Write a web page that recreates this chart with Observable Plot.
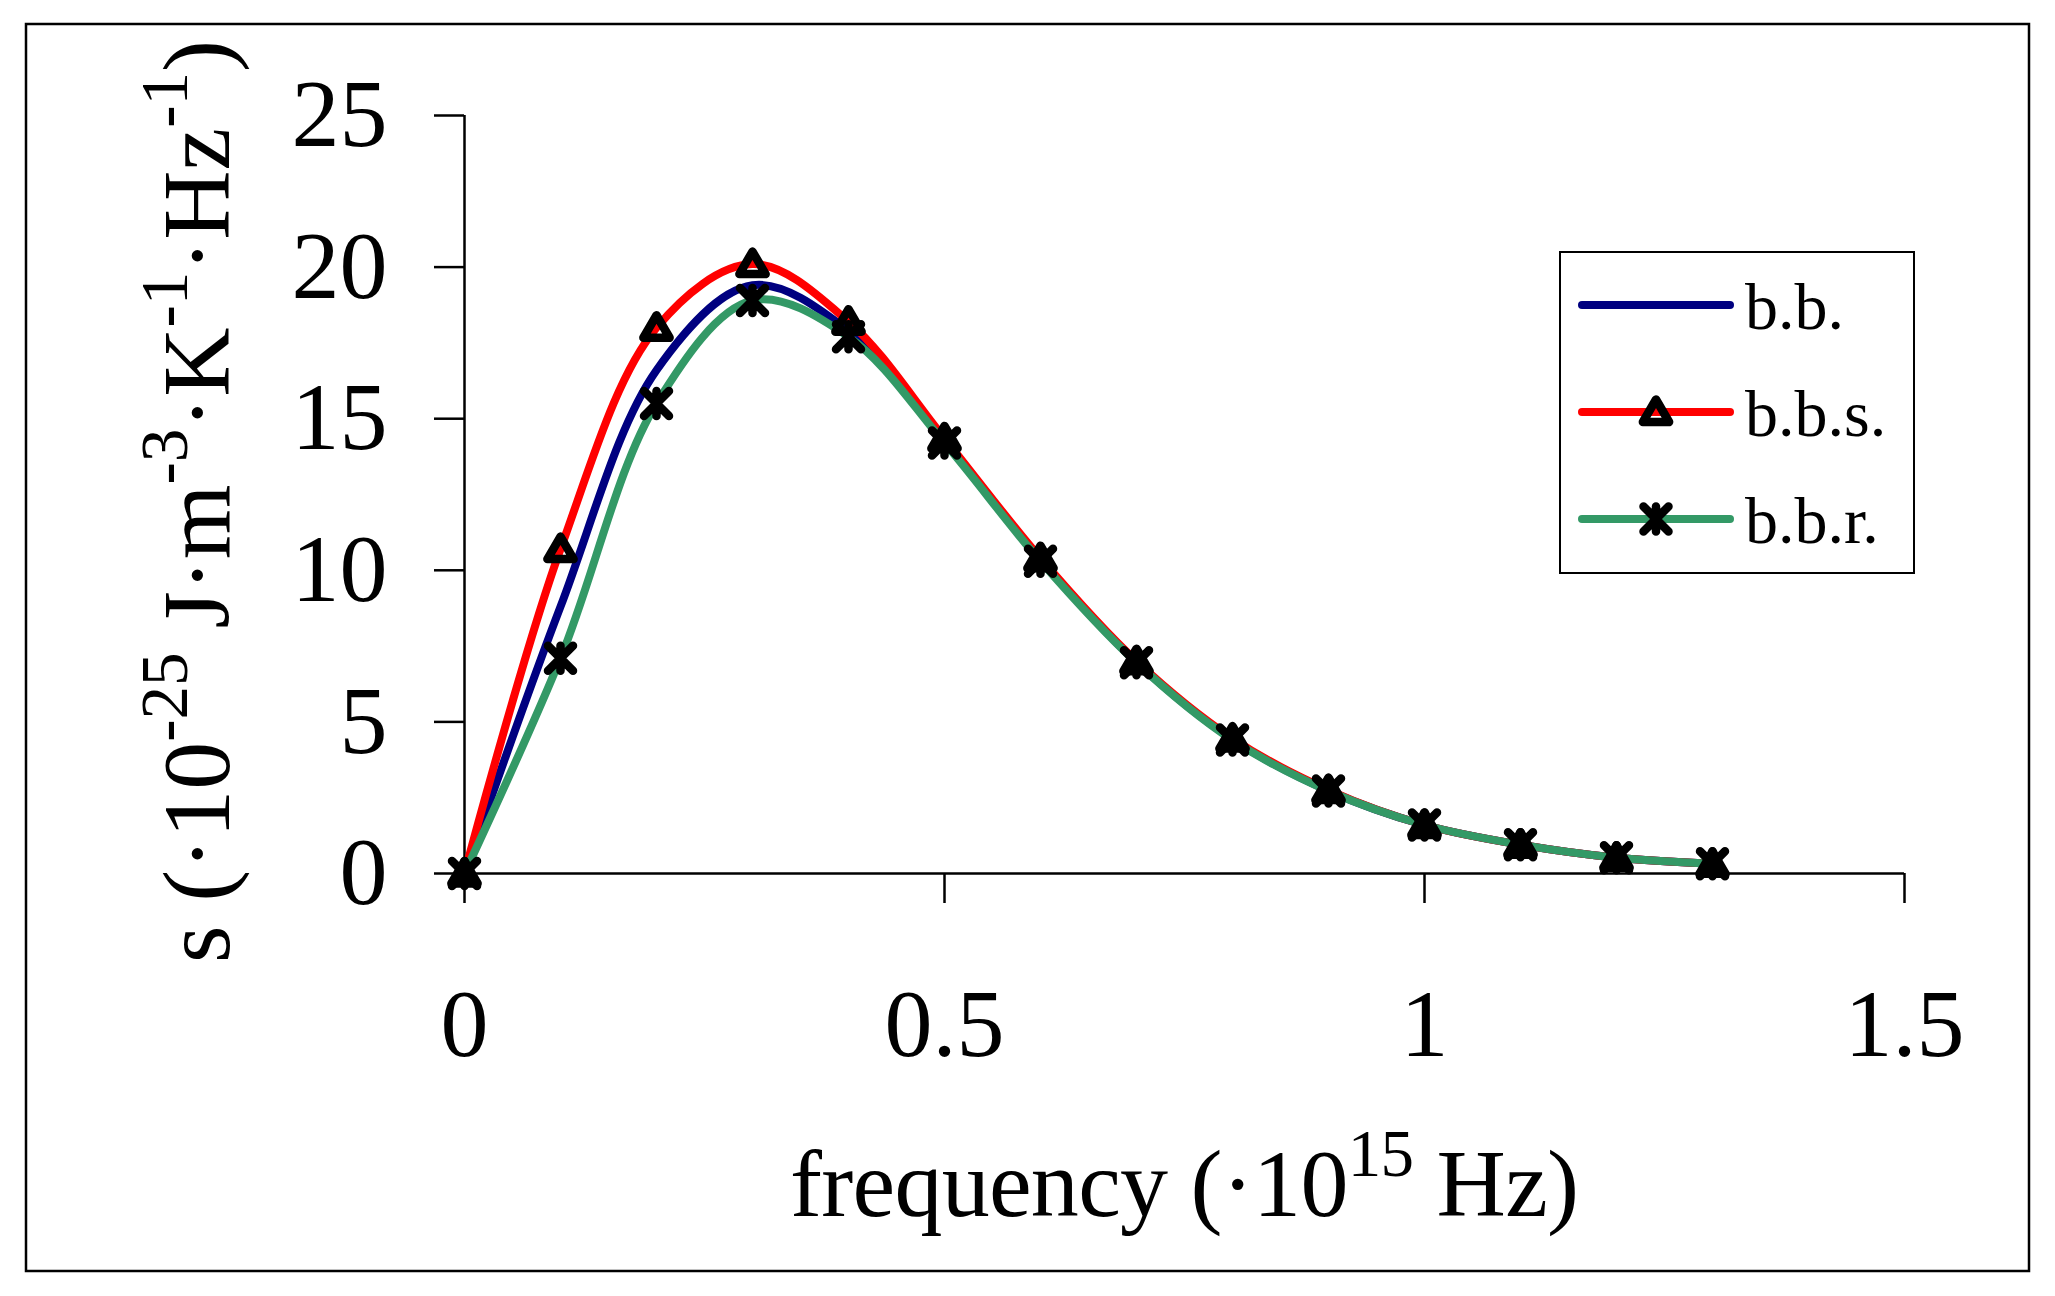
<!DOCTYPE html>
<html>
<head>
<meta charset="utf-8">
<script src="https://cdn.jsdelivr.net/npm/d3@7"></script>
<script src="https://cdn.jsdelivr.net/npm/@observablehq/plot@0.6"></script>
<style>
  html, body { margin: 0; padding: 0; background: #fff; }
  #chart { position: relative; width: 2055px; height: 1296px; }
</style>
</head>
<body>
<div id="chart"></div>
<script>
// ---- data ----
const freq = [0, 0.1, 0.2, 0.3, 0.4, 0.5, 0.6, 0.7, 0.8, 0.9, 1.0, 1.1, 1.2, 1.3];
const seriesNames = ["b.b.", "b.b.s.", "b.b.r."];
const bb  = [0, 8.8, 16.6, 19.4, 17.9, 14.25, 10.35, 6.97, 4.42, 2.73, 1.6, 0.95, 0.52, 0.32];
const bbs = [0, 10.7, 18.0, 20.1, 18.2, 14.35, 10.4, 7.0, 4.45, 2.75, 1.6, 0.95, 0.52, 0.32];
const bbr = [0, 7.1, 15.5, 18.9, 17.7, 14.2, 10.3, 6.95, 4.4, 2.72, 1.6, 0.95, 0.52, 0.32];
const seriesColors = ["#000080", "#ff0000", "#339966"];
const xTicks = [0, 0.5, 1, 1.5];
const yTicks = [0, 5, 10, 15, 20, 25];

const seriesValues = [bb, bbs, bbr];
const rows = [];
seriesNames.forEach((name, k) => {
  freq.forEach((f, i) => rows.push({freq: f, s: seriesValues[k][i], series: name}));
});

// custom marker symbols (Excel-like triangle and star)
const triangleSym = {
  draw(ctx, size) {
    const r = Math.sqrt(size / Math.PI);
    ctx.moveTo(0, -r);
    ctx.lineTo(r * 1.05, r * 0.8);
    ctx.lineTo(-r * 1.05, r * 0.8);
    ctx.closePath();
  }
};
const starSym = {
  draw(ctx, size) {
    const r = Math.sqrt(size / Math.PI);
    ctx.moveTo(-r, -r); ctx.lineTo(r, r);
    ctx.moveTo(r, -r); ctx.lineTo(-r, r);
    ctx.moveTo(0, -r); ctx.lineTo(0, r);
  }
};

const font = "'Liberation Serif', 'Times New Roman', serif";
const bySeries = (n) => rows.filter(d => d.series === n);

const lineOpts = (c) => ({
  x: "freq", y: "s", stroke: c, strokeWidth: 8, curve: "catmull-rom",
  strokeLinecap: "round", strokeLinejoin: "round"
});
const dotOpts = (sym) => ({
  x: "freq", y: "s", symbol: sym, r: 12.5, fill: "none", stroke: "black",
  strokeWidth: 8.5, strokeLinecap: "round", strokeLinejoin: "round"
});

const svg = Plot.plot({
  width: 2055,
  height: 1296,
  marginLeft: 464,
  marginRight: 151,
  marginTop: 115,
  marginBottom: 423,
  style: {fontFamily: font, background: "white", color: "black", overflow: "visible"},
  x: {domain: [0, 1.5]},
  y: {domain: [0, 25]},
  marks: [
    Plot.axisX({ticks: xTicks, tickSize: 30, tickPadding: 84, fontSize: 96,
      tickFormat: d => String(d), label: null, strokeWidth: 2.5, fill: "black"}),
    Plot.axisY({ticks: yTicks, tickSize: 30, tickPadding: 47, fontSize: 96,
      tickFormat: d => String(d), label: null, strokeWidth: 2.5, fill: "black"}),
    Plot.ruleX([0], {stroke: "black", strokeWidth: 2.5}),
    Plot.ruleY([0], {stroke: "black", strokeWidth: 2.5}),
    Plot.line(bySeries("b.b."), lineOpts(seriesColors[0])),
    Plot.line(bySeries("b.b.s."), lineOpts(seriesColors[1])),
    Plot.line(bySeries("b.b.r."), lineOpts(seriesColors[2])),
    Plot.dot(bySeries("b.b.s."), dotOpts(triangleSym)),
    Plot.dot(bySeries("b.b.r."), dotOpts(starSym))
  ]
});

document.getElementById("chart").appendChild(svg);

const root = d3.select(svg);

// outer frame
root.insert("rect", ":first-child")
  .attr("x", 26).attr("y", 24).attr("width", 2003).attr("height", 1247)
  .attr("fill", "white").attr("stroke", "black").attr("stroke-width", 2.5);

// y-axis title with superscripts
const yl = root.append("text")
  .attr("transform", "translate(229,963) rotate(-90)")
  .attr("text-anchor", "start")
  .attr("font-family", font).attr("font-size", 96).attr("fill", "black")
  .attr("textLength", 923).attr("lengthAdjust", "spacing");
const yParts = [["s (·10", 0], ["-25", 1], [" J·m", 0], ["-3", 1], ["·K", 0], ["-1", 1], ["·Hz", 0], ["-1", 1], [")", 0]];
let prevSup = 0;
yParts.forEach(([t, sup]) => {
  const ts = yl.append("tspan").text(t);
  if (sup) ts.attr("font-size", 67);
  if (sup !== prevSup) ts.attr("dy", sup ? -42 : 42);
  prevSup = sup;
});

// x-axis title
const xl = root.append("text")
  .attr("x", 790).attr("y", 1216)
  .attr("text-anchor", "start")
  .attr("font-family", font).attr("font-size", 96).attr("fill", "black")
  .attr("textLength", 789).attr("lengthAdjust", "spacing");
xl.append("tspan").text("frequency (·10");
xl.append("tspan").text("15").attr("font-size", 67).attr("dy", -40);
xl.append("tspan").text(" Hz)").attr("dy", 40);

// legend
const lg = root.append("g");
lg.append("rect").attr("x", 1560).attr("y", 252).attr("width", 354).attr("height", 321)
  .attr("fill", "white").attr("stroke", "black").attr("stroke-width", 2);
const legendY = [305, 412, 519];
const legendSyms = [null, triangleSym, starSym];
seriesNames.forEach((name, k) => {
  const y = legendY[k];
  lg.append("line").attr("x1", 1582).attr("x2", 1730).attr("y1", y).attr("y2", y)
    .attr("stroke", seriesColors[k]).attr("stroke-width", 8).attr("stroke-linecap", "round");
  if (legendSyms[k]) {
    lg.append("path").attr("d", d3.symbol(legendSyms[k], 12.5 * 12.5 * Math.PI)())
      .attr("transform", `translate(1656,${y})`)
      .attr("fill", "none").attr("stroke", "black").attr("stroke-width", 8.5)
      .attr("stroke-linecap", "round").attr("stroke-linejoin", "round");
  }
  lg.append("text").attr("x", 1745).attr("y", y + 24)
    .attr("text-anchor", "start")
    .attr("font-family", font).attr("font-size", 66).attr("fill", "black")
    .text(name);
});
</script>
</body>
</html>
